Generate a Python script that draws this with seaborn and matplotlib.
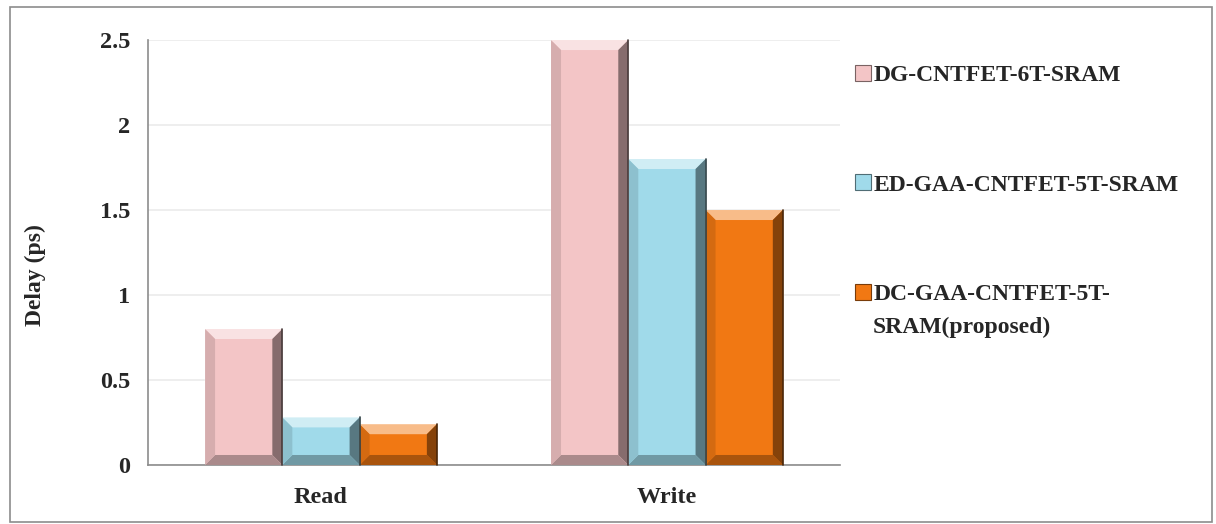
import pandas as pd
import matplotlib.pyplot as plt
import matplotlib.colors as mcolors
from matplotlib.patches import Polygon, Rectangle
import seaborn as sns

# Data
operations = ["Read", "Write"]
designs = ["DG-CNTFET-6T-SRAM", "ED-GAA-CNTFET-5T-SRAM", "DC-GAA-CNTFET-5T-SRAM(proposed)"]
legend_labels = ["DG-CNTFET-6T-SRAM", "ED-GAA-CNTFET-5T-SRAM", "DC-GAA-CNTFET-5T-"]
legend_wrap = "SRAM(proposed)"
dg_6t = [0.80, 2.50]
ed_gaa_5t = [0.28, 1.80]
dc_gaa_5t = [0.24, 1.50]
colors = ["#F3C5C6", "#A0DAEA", "#F17813"]

rows = []
for name, vals in zip(designs, [dg_6t, ed_gaa_5t, dc_gaa_5t]):
    for op, v in zip(operations, vals):
        rows.append({"op": op, "design": name, "delay": v})
df = pd.DataFrame(rows)

sns.set_style("white")
plt.rcParams['font.family'] = ['Liberation Serif', 'DejaVu Serif']
plt.rcParams['font.weight'] = 'bold'

fig = plt.figure(figsize=(12.16, 5.24), dpi=100)
ax = fig.add_axes([0.1217, 0.1126, 0.569, 0.811])

sns.barplot(data=df, x="op", y="delay", hue="design", hue_order=designs,
            palette=colors, width=0.67, saturation=1, ax=ax, legend=False)

ax.set_ylim(0, 2.5)
ax.set_xlim(-0.5, 1.5)
ax.set_yticks([0, 0.5, 1, 1.5, 2, 2.5])
ax.set_yticklabels(["0", "0.5", "1", "1.5", "2", "2.5"])
ax.yaxis.grid(True, color="#EBEBEB", linewidth=1.2)
ax.set_axisbelow(True)
for s in ["top", "right"]:
    ax.spines[s].set_visible(False)
for s in ["left", "bottom"]:
    ax.spines[s].set_color("#8C8C8C")
    ax.spines[s].set_linewidth(1.2)

# category tick marks sit between groups (Excel style)
ax.set_xticks([-0.5, 0.5, 1.5], minor=True)
ax.tick_params(axis="x", which="minor", length=5, color="#8C8C8C", width=1.2)
ax.tick_params(axis="x", which="major", length=0, labelsize=17.5, pad=16)
ax.tick_params(axis="y", length=5, color="#8C8C8C", width=1.2, labelsize=17.5, pad=8)
for lbl in ax.get_xticklabels() + ax.get_yticklabels():
    lbl.set_fontweight("bold")
ax.set_xlabel("")
ax.set_ylabel("Delay (ps)", fontsize=17, fontweight="bold")
ax.yaxis.set_label_coords(-0.148, 0.447)

# bevel look on each bar, computed from the drawn patches
def shade(c, f):
    r, g, b = mcolors.to_rgb(c)
    if f > 1:
        return (r + (1 - r) * (f - 1), g + (1 - g) * (f - 1), b + (1 - b) * (f - 1))
    return (r * f, g * f, b * f)

bev = 10
for patch in ax.patches:
    h = patch.get_height()
    if h <= 0:
        continue
    x0, y0 = ax.transData.transform((patch.get_x(), 0))
    x1, y1 = ax.transData.transform((patch.get_x() + patch.get_width(), h))
    c = patch.get_facecolor()
    b = min(bev, (y1 - y0) / 2.5)
    polys = [
        ([(x0, y1), (x1, y1), (x1 - b, y1 - b), (x0 + b, y1 - b)], shade(c, 1.5)),
        ([(x1, y1), (x1, y0), (x1 - b, y0 + b), (x1 - b, y1 - b)], shade(c, 0.55)),
        ([(x0, y0), (x1, y0), (x1 - b, y0 + b), (x0 + b, y0 + b)], shade(c, 0.7)),
        ([(x0, y0), (x0, y1), (x0 + b, y1 - b), (x0 + b, y0 + b)], shade(c, 0.88)),
    ]
    for pts, col in polys:
        fig.patches.append(Polygon(pts, closed=True, facecolor=col, edgecolor="none",
                                   transform=None, figure=fig, zorder=5))
    # thin dark right edge
    fig.lines.append(plt.Line2D([x1, x1], [y0, y1], color=shade(c, 0.3), linewidth=1.2,
                                transform=None, figure=fig, zorder=6))

handles = [Rectangle((0, 0), 1, 1, facecolor=c, edgecolor=shade(c, 0.5), linewidth=0.8)
           for c in colors]
leg = fig.legend(handles, legend_labels, loc="upper left",
                 bbox_to_anchor=(0.686, 0.917), frameon=False,
                 prop={"family": "Liberation Serif", "weight": "bold", "size": 17},
                 handlelength=0.65, handleheight=0.65, handletextpad=0.1,
                 labelspacing=3.75, alignment="left")

# second line of the wrapped last legend entry, placed under its first line
fig.canvas.draw()
last = leg.get_texts()[-1]
bb = last.get_window_extent()
fig.text(bb.x0, bb.y0 - 33 + bb.height / 2, legend_wrap, transform=None,
         fontsize=17, fontweight="bold", family="Liberation Serif", va="center", ha="left")

# outer chart border
fig.patches.append(Rectangle((0.008, 0.004), 0.989, 0.982, transform=fig.transFigure,
                             fill=False, edgecolor="#8C8C8C", linewidth=1.2, figure=fig))

fig.savefig("out.png", dpi=100)
